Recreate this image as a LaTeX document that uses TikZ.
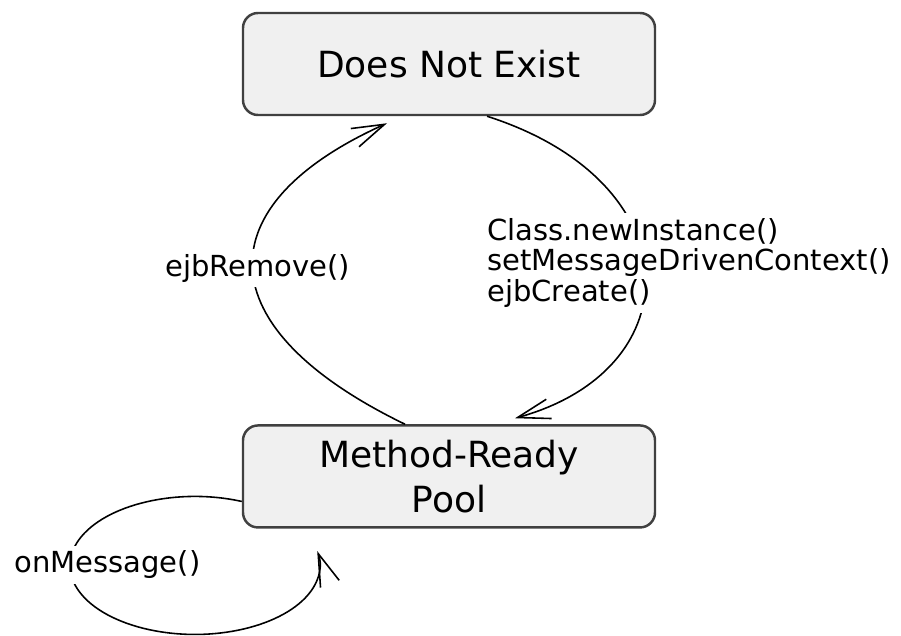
\documentclass[tikz,border=0pt]{standalone}
\usepackage{fontspec}
\setmainfont{DejaVu Sans}
\usetikzlibrary{positioning, arrows.meta}
\definecolor{boxfill}{RGB}{240,240,240}
\tikzset{
  state/.style={rectangle, rounded corners=0.3cm, minimum width=8.24cm, minimum height=2.04cm, text centered, align=center, draw=black!75, line width=1.4pt, fill=boxfill, font=\fontsize{20.5}{25.5}\selectfont},
  lbl/.style={font=\fontsize{16.5}{17.6}\selectfont, align=left, fill=white, inner sep=0.1cm},
  arrow/.style={line width=0.9pt, -{Straight Barb[length=0.65cm, width=0.4cm]}}
}

\begin{document}
\begin{tikzpicture}
  \useasboundingbox (0,0) rectangle (18.02,12.7);
  \node (dne) [state] at (8.98,11.42) {Does Not Exist};
  \node (mrp) [state, below=6.16cm of dne] {Method-Ready\\Pool};

  % creation
  \draw [arrow] ([xshift=0.76cm]dne.south) .. controls +(4.12,-1.32) and +(3.56,0.98) .. ([xshift=1.32cm, yshift=0.12cm]mrp.north);
  \node (lblcreate) [lbl, anchor=west] at (9.64,7.44) {Class.newInstance()\\setMessageDrivenContext()\\ejbCreate()};

  % removal
  \draw [arrow] ([xshift=-0.88cm]mrp.north) .. controls +(-4,1.94) and +(-3.64,-1.64) .. node[lbl, pos=0.5, xshift=0.1cm] (lblremove) {ejbRemove()} ([xshift=-1.24cm, yshift=-0.14cm]dne.south);

  % self loop
  \draw [arrow] ([yshift=-0.5cm]mrp.west) arc[start angle=68, end angle=372, x radius=2.5cm, y radius=1.38cm];
  \node (lblmsg) [lbl] at (2.15,1.4) {onMessage()};
\end{tikzpicture}
\end{document}
